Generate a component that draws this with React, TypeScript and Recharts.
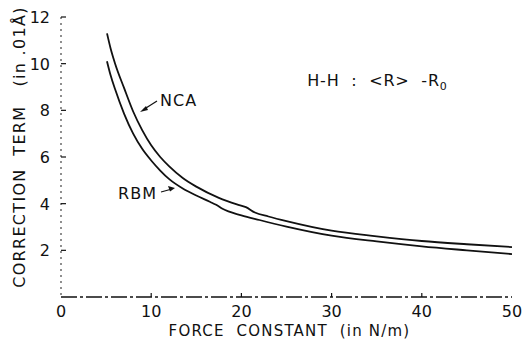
import React from 'react';
import { LineChart, Line, XAxis, YAxis, ReferenceDot } from 'recharts';

const xTicks = [0, 10, 20, 30, 40, 50];
const yTicks = [2, 4, 6, 8, 10, 12];

const ncaForce = [5.1, 5.5, 6, 7, 8, 9, 10, 11, 12, 13.5, 15, 17.5, 19.5, 20.5, 21.5, 23, 25, 30, 35, 40, 45, 50];
const ncaTerm = [11.3, 10.65, 10.0, 8.95, 7.95, 7.15, 6.5, 6.0, 5.6, 5.1, 4.73, 4.25, 3.97, 3.85, 3.62, 3.45, 3.25, 2.84, 2.6, 2.4, 2.26, 2.14];

const rbmForce = [5.1, 5.5, 6, 7, 8, 9, 10, 11, 12, 13.5, 15, 16.5, 17.2, 17.9, 20, 22, 25, 30, 35, 40, 45, 50];
const rbmTerm = [10.1, 9.5, 8.9, 7.85, 7.0, 6.35, 5.85, 5.42, 5.05, 4.65, 4.35, 4.08, 3.95, 3.78, 3.5, 3.3, 3.02, 2.63, 2.38, 2.17, 2.0, 1.84];

const ncaData = ncaForce.map((f, i) => ({ f, v: ncaTerm[i] }));
const rbmData = rbmForce.map((f, i) => ({ f, v: rbmTerm[i] }));

const FONT = '"DejaVu Sans", sans-serif';
const INK = '#111';

const YTick = (props: any) => {
  const { x, y, payload } = props;
  return (
    <g>
      <text x={x - 3} y={y} dy={6} textAnchor="end" fontFamily={FONT} fontSize={16} fill={INK}>
        {payload.value}
      </text>
      <line x1={x + 8} x2={x + 13} y1={y} y2={y} stroke={INK} strokeWidth={1.2} />
    </g>
  );
};

const XTick = (props: any) => {
  const { x, y, payload } = props;
  return (
    <g>
      <text x={x} y={y + 12} textAnchor="middle" fontFamily={FONT} fontSize={16} fill={INK}>
        {payload.value}
      </text>
      {payload.value !== 0 && payload.value !== 50 ? (
        <line x1={x} x2={x} y1={y - 8} y2={y - 12} stroke={INK} strokeWidth={1.2} />
      ) : null}
    </g>
  );
};

const TopTick = (props: any) => {
  const { x, y, payload } = props;
  if (payload.value === 0 || payload.value === 50) return <g />;
  return <line x1={x} x2={x} y1={y + 8} y2={y + 12} stroke={INK} strokeWidth={1.2} />;
};

const RightTick = (props: any) => {
  const { x, y, payload } = props;
  if (payload.value === 12) return <g />;
  return <line x1={x - 8} x2={x - 12} y1={y} y2={y} stroke={INK} strokeWidth={1.2} />;
};

const YTitle = (props: any) => {
  const { viewBox } = props;
  const cx = viewBox.x + 19;
  const cy = viewBox.y + viewBox.height / 2 - 10;
  return (
    <text
      x={cx}
      y={cy}
      transform={`rotate(-90 ${cx} ${cy})`}
      textAnchor="middle"
      dominantBaseline="central"
      fontFamily={FONT}
      fontSize={16}
      letterSpacing={1.3}
      fill={INK}
      style={{ whiteSpace: 'pre' }}
    >
      {'CORRECTION  TERM   (in .01Å)'}
    </text>
  );
};

const XTitle = (props: any) => {
  const { viewBox } = props;
  const cx = viewBox.x + viewBox.width / 2 + 3;
  const cy = viewBox.y + 39;
  return (
    <text
      x={cx}
      y={cy}
      textAnchor="middle"
      fontFamily={FONT}
      fontSize={15}
      letterSpacing={1.2}
      fill={INK}
      style={{ whiteSpace: 'pre' }}
    >
      {'FORCE  CONSTANT  (in N/m)'}
    </text>
  );
};

const NcaNote = (props: any) => {
  const { viewBox } = props;
  const x = viewBox.x;
  const y = viewBox.y;
  return (
    <g>
      <line x1={x + 4} y1={y - 2.6} x2={x + 17} y2={y - 11} stroke={INK} strokeWidth={1.2} />
      <polygon points={`${x},${y} ${x + 6},${y - 6} ${x + 8},${y - 2}`} fill={INK} />
      <text x={x + 20} y={y - 6} fontFamily={FONT} fontSize={16} letterSpacing={1} fill={INK}>
        NCA
      </text>
    </g>
  );
};

const RbmNote = (props: any) => {
  const { viewBox } = props;
  const x = viewBox.x;
  const y = viewBox.y;
  return (
    <g>
      <line x1={x - 4} y1={y + 1.2} x2={x - 14} y2={y + 4} stroke={INK} strokeWidth={1.2} />
      <polygon points={`${x},${y} ${x - 7},${y - 2} ${x - 5},${y + 3.5}`} fill={INK} />
      <text x={x - 18} y={y + 11} textAnchor="end" fontFamily={FONT} fontSize={16} letterSpacing={1} fill={INK}>
        RBM
      </text>
    </g>
  );
};

const HHNote = (props: any) => {
  const { viewBox } = props;
  return (
    <text x={viewBox.x} y={viewBox.y + 6} fontFamily={FONT} fontSize={16} letterSpacing={0.8} fill={INK} style={{ whiteSpace: 'pre' }}>
      {'H-H  :  <R>  -R'}
      <tspan fontSize={11} dy={4}>0</tspan>
    </text>
  );
};

export default function App() {
  return (
    <div style={{ position: 'absolute', left: 0, top: 0, background: '#fff' }}>
      <LineChart width={522} height={346} margin={{ top: 17, right: 10, left: 0, bottom: 0 }}>
        <XAxis
          xAxisId="b"
          type="number"
          dataKey="f"
          domain={[0, 50]}
          ticks={xTicks}
          height={49}
          axisLine={{ stroke: INK, strokeWidth: 1.3, strokeDasharray: '16 3 3 3' }}
          tickLine={false}
          tick={<XTick />}
          label={<XTitle />}
          allowDataOverflow
        />
        <XAxis
          xAxisId="t"
          orientation="top"
          type="number"
          dataKey="f"
          domain={[0, 50]}
          ticks={xTicks}
          height={0}
          axisLine={{ stroke: INK, strokeWidth: 1.3 }}
          tickLine={false}
          tick={<TopTick />}
        />
        <YAxis
          yAxisId="l"
          type="number"
          domain={[0, 12]}
          ticks={yTicks}
          width={61}
          axisLine={{ stroke: '#333', strokeWidth: 1.1, strokeDasharray: '2 4' }}
          tickLine={false}
          tick={<YTick />}
          label={<YTitle />}
        />
        <YAxis
          yAxisId="r"
          orientation="right"
          type="number"
          domain={[0, 12]}
          ticks={yTicks}
          width={0}
          axisLine={{ stroke: INK, strokeWidth: 1.3 }}
          tickLine={false}
          tick={<RightTick />}
        />
        <Line
          xAxisId="b"
          yAxisId="l"
          data={ncaData}
          dataKey="v"
          type="monotone"
          stroke={INK}
          strokeWidth={1.8}
          dot={false}
          isAnimationActive={false}
        />
        <Line
          xAxisId="b"
          yAxisId="l"
          data={rbmData}
          dataKey="v"
          type="monotone"
          stroke={INK}
          strokeWidth={1.8}
          dot={false}
          isAnimationActive={false}
        />
        <ReferenceDot xAxisId="b" yAxisId="l" x={8.76} y={7.93} r={0} ifOverflow="visible" label={<NcaNote />} />
        <ReferenceDot xAxisId="b" yAxisId="l" x={12.64} y={4.67} r={0} ifOverflow="visible" label={<RbmNote />} />
        <ReferenceDot xAxisId="b" yAxisId="l" x={27.3} y={9.3} r={0} ifOverflow="visible" label={<HHNote />} />
      </LineChart>
    </div>
  );
}
